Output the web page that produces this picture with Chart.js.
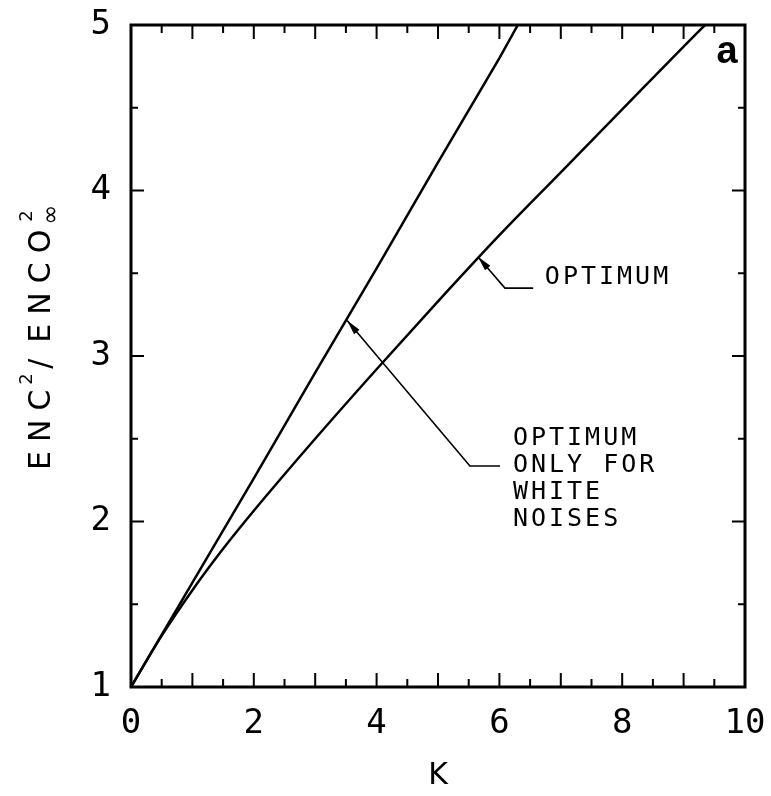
<!DOCTYPE html>
<html>
<head>
<meta charset="utf-8">
<script src="https://cdn.jsdelivr.net/npm/chart.js@4.4.1/dist/chart.umd.min.js"></script>
<style>
  html, body { margin: 0; padding: 0; background: #fff; }
  #wrap { width: 771px; height: 796px; }
</style>
</head>
<body>
<div id="wrap"><canvas id="encChart" width="771" height="796"></canvas></div>
<script>
// curve "optimum only for white noises"
const kWhite = [0, 1, 2, 3, 4, 5, 6, 6.3];
const encWhite = [1, 1.63, 2.26, 2.90, 3.53, 4.17, 4.80, 5.0];

// optimum curve
const kOpt = [0, 0.5, 1, 1.5, 2, 3, 4, 5, 6, 7, 8, 9, 9.35];
const encOpt = [1, 1.31, 1.585, 1.835, 2.065, 2.50, 2.92, 3.33, 3.73, 4.11, 4.49, 4.87, 5.0];

// axis ranges and labelled ticks
const kTicks = [0, 2, 4, 6, 8, 10];
const encTicks = [1, 2, 3, 4, 5];

const toPoints = (xs, ys) => xs.map((x, i) => ({ x: x, y: ys[i] }));

const INK = "#000";
const MONO = "'DejaVu Sans Mono', 'Liberation Mono', monospace";

// frame with inward ticks on all four sides
const framePlugin = {
  id: "frame",
  afterDraw(chart) {
    const { ctx, chartArea: a, scales } = chart;
    const xs = scales.x, ys = scales.y;
    ctx.save();
    ctx.strokeStyle = INK;
    ctx.lineWidth = 2;
    for (let v = 0.5; v < 10; v += 0.5) {
      const px = xs.getPixelForValue(v);
      const len = Number.isInteger(v) ? 14 : 8;
      ctx.beginPath();
      ctx.moveTo(px, a.bottom); ctx.lineTo(px, a.bottom - len);
      ctx.moveTo(px, a.top); ctx.lineTo(px, a.top + len);
      ctx.stroke();
    }
    for (let v = 1.5; v < 5; v += 0.5) {
      const py = ys.getPixelForValue(v);
      const len = Number.isInteger(v) ? 13 : 7;
      ctx.beginPath();
      ctx.moveTo(a.left, py); ctx.lineTo(a.left + len, py);
      ctx.moveTo(a.right, py); ctx.lineTo(a.right - len, py);
      ctx.stroke();
    }
    ctx.lineWidth = 3;
    ctx.strokeRect(a.left, a.top, a.right - a.left, a.bottom - a.top);

    // panel letter
    ctx.fillStyle = INK;
    ctx.font = "bold 38px 'Liberation Sans', Arial, sans-serif";
    ctx.textAlign = "center";
    ctx.textBaseline = "alphabetic";
    ctx.fillText("a", a.right - 18, a.top + 38);
    ctx.restore();
  }
};

// rotated y title: ENC^2 / ENCO_inf^2
const yTitlePlugin = {
  id: "yTitle",
  afterDraw(chart) {
    const ctx = chart.ctx;
    ctx.save();
    ctx.translate(50, 470);
    ctx.rotate(-Math.PI / 2);
    ctx.fillStyle = INK;
    ctx.textBaseline = "alphabetic";
    ctx.textAlign = "left";
    const big = "30px 'DejaVu Sans', sans-serif";
    const small = "18px 'DejaVu Sans', sans-serif";
    let x = 0;
    ctx.font = big;
    ctx.letterSpacing = "9px";
    ctx.fillText("ENC", x, 0);
    x += ctx.measureText("ENC").width - 4;
    ctx.font = small;
    ctx.letterSpacing = "0px";
    ctx.fillText("2", x, -18);
    x += 16;
    ctx.font = big;
    ctx.fillText("/", x, 0);
    x += 26;
    ctx.letterSpacing = "9px";
    ctx.fillText("ENCO", x, 0);
    x += ctx.measureText("ENCO").width - 4;
    ctx.letterSpacing = "0px";
    ctx.font = small;
    ctx.fillText("2", x + 3, -18);
    ctx.font = "24px 'DejaVu Sans', sans-serif";
    ctx.fillText("\u221E", x, 8);
    ctx.restore();
  }
};

// leader lines with arrow heads and their captions
const notes = [
  { tip: { x: 5.65, y: 3.60 }, elbow: { x: 6.09, y: 3.41 }, end: { x: 6.55, y: 3.41 },
    text: { x: 6.74, y: 3.477 }, lines: ["OPTIMUM"] },
  { tip: { x: 3.52, y: 3.215 }, elbow: { x: 5.52, y: 2.335 }, end: { x: 6.01, y: 2.335 },
    text: { x: 6.22, y: 2.50 }, lines: ["OPTIMUM", "ONLY FOR", "WHITE", "NOISES"] }
];

const notePlugin = {
  id: "notes",
  afterDraw(chart) {
    const { ctx, scales } = chart;
    const px = p => [scales.x.getPixelForValue(p.x), scales.y.getPixelForValue(p.y)];
    ctx.save();
    ctx.strokeStyle = INK;
    ctx.fillStyle = INK;
    notes.forEach(n => {
      const [tx, ty] = px(n.tip), [ex, ey] = px(n.elbow), [fx, fy] = px(n.end);
      ctx.lineWidth = 1.6;
      ctx.beginPath();
      ctx.moveTo(tx, ty); ctx.lineTo(ex, ey); ctx.lineTo(fx, fy);
      ctx.stroke();
      const ang = Math.atan2(ty - ey, tx - ex);
      const L = 15, W = 3.5;
      ctx.beginPath();
      ctx.moveTo(tx, ty);
      ctx.lineTo(tx - L * Math.cos(ang) + W * Math.sin(ang), ty - L * Math.sin(ang) - W * Math.cos(ang));
      ctx.lineTo(tx - L * Math.cos(ang) - W * Math.sin(ang), ty - L * Math.sin(ang) + W * Math.cos(ang));
      ctx.closePath();
      ctx.fill();
      const [lx, ly] = px(n.text);
      ctx.font = "25px " + MONO;
      ctx.letterSpacing = "3px";
      ctx.textAlign = "left";
      ctx.textBaseline = "middle";
      n.lines.forEach((s, i) => ctx.fillText(s, lx, ly + i * 27));
    });
    ctx.restore();
  }
};

const ctx = document.getElementById("encChart").getContext("2d");

new Chart(ctx, {
  type: "line",
  data: {
    datasets: [
      {
        label: "Optimum only for white noises",
        data: toPoints(kWhite, encWhite),
        borderColor: INK,
        borderWidth: 2.5,
        pointRadius: 0,
        tension: 0
      },
      {
        label: "Optimum",
        data: toPoints(kOpt, encOpt),
        borderColor: INK,
        borderWidth: 2.5,
        pointRadius: 0,
        cubicInterpolationMode: "monotone"
      }
    ]
  },
  options: {
    responsive: false,
    animation: false,
    events: [],
    layout: { padding: { left: 0, right: 26, top: 25, bottom: 0 } },
    plugins: { legend: { display: false }, tooltip: { enabled: false } },
    scales: {
      x: {
        type: "linear",
        min: 0,
        max: 10,
        afterFit: s => { s.height = 109; s.paddingLeft = 0; s.paddingRight = 0; },
        afterBuildTicks: s => { s.ticks = kTicks.map(v => ({ value: v })); },
        grid: { display: false, drawTicks: false },
        border: { display: false },
        ticks: {
          color: INK,
          padding: 17,
          maxRotation: 0,
          font: { family: MONO, size: 34 }
        },
        title: {
          display: true,
          text: "K",
          color: INK,
          font: { family: "'DejaVu Sans', sans-serif", size: 30 },
          padding: { top: 0, bottom: 2 }
        }
      },
      y: {
        type: "linear",
        min: 1,
        max: 5,
        afterFit: s => { s.width = 131; s.paddingTop = 0; s.paddingBottom = 0; },
        afterBuildTicks: s => { s.ticks = encTicks.map(v => ({ value: v })); },
        grid: { display: false, drawTicks: false },
        border: { display: false },
        ticks: {
          color: INK,
          padding: 20,
          font: { family: MONO, size: 34 }
        }
      }
    }
  },
  plugins: [framePlugin, yTitlePlugin, notePlugin]
});
</script>
</body>
</html>
